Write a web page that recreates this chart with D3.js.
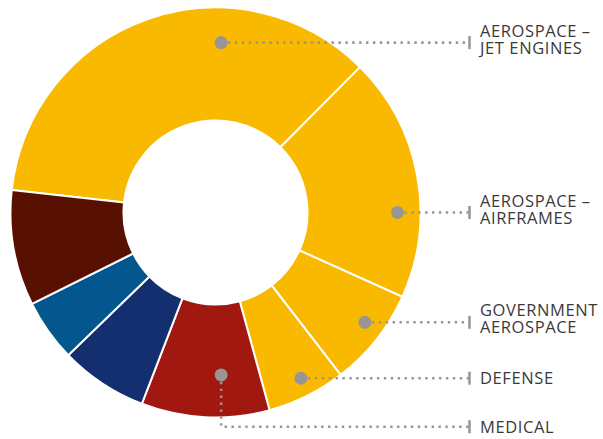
<!DOCTYPE html>
<html>
<head>
<meta charset="utf-8">
<script src="https://cdn.jsdelivr.net/npm/d3@7"></script>
<style>
  body { margin: 0; background: #fff; }
  svg { display: block; }
  .label { font-family: "Open Sans", "Noto Sans", sans-serif; font-size: 16.5px; fill: #3a3a3a; letter-spacing: 0.6px; }
</style>
</head>
<body>
<div id="chart"></div>
<script>
"use strict";

// segments, clockwise starting from the big jet engines slice
const segments = ["Aerospace – Jet Engines", "Aerospace – Airframes", "Government Aerospace",
  "Defense", "Medical", "Other 1", "Other 2", "Other 3"];
const shares = [35.7, 19.3, 7.8, 6.2, 10.1, 6.9, 4.9, 9.1];
const segmentColors = ["#F9B900", "#F9B900", "#F9B900", "#F9B900", "#A11810", "#142F70", "#03578E", "#581100"];

// callouts: segment index, label lines
const calloutSegment = [0, 1, 2, 3, 4];
const calloutLines = [
  ["AEROSPACE –", "JET ENGINES"],
  ["AEROSPACE –", "AIRFRAMES"],
  ["GOVERNMENT", "AEROSPACE"],
  ["DEFENSE"],
  ["MEDICAL"]
];

const msm = {
  width: 603,
  height: 439,
  cx: 215.5,
  cy: 212.5,
  outer: 205,
  inner: 92,
  tickX: 469.5,
  textX: 480
};

// where each callout dot sits on its slice (degrees clockwise from top, radius)
const dotAngle = [1.9, 90, 126.3, 152.7, 178];
const dotRadius = [170, 182, 185.5, 186.5, 162.5];

const svg = d3.select("#chart").append("svg")
  .attr("width", msm.width)
  .attr("height", msm.height);

const pie = d3.pie()
  .sort(null)
  .value(d => d)
  .startAngle(-83.7 * Math.PI / 180)
  .endAngle((360 - 83.7) * Math.PI / 180);

const arc = d3.arc()
  .innerRadius(msm.inner)
  .outerRadius(msm.outer);

const donut = svg.append("g")
  .attr("transform", "translate(" + msm.cx + "," + msm.cy + ")");

donut.selectAll("path")
  .data(pie(shares))
  .enter()
  .append("path")
  .attr("d", arc)
  .attr("fill", (d, i) => segmentColors[i])
  .attr("stroke", "#fff")
  .attr("stroke-width", 2)
  .attr("stroke-linejoin", "miter");

// callouts
function dotPos(i) {
  const a = dotAngle[i] * Math.PI / 180;
  return [msm.cx + dotRadius[i] * Math.sin(a), msm.cy - dotRadius[i] * Math.cos(a)];
}

const callouts = svg.append("g");

calloutSegment.forEach((seg, i) => {
  const [x, y] = dotPos(i);
  const isMedical = i === 4;
  const lineY = isMedical ? 426.7 : y;
  const pts = isMedical ? [[x, y], [x, lineY], [msm.tickX, lineY]] : [[x, y], [msm.tickX, lineY]];

  callouts.append("path")
    .attr("d", d3.line()(pts))
    .attr("fill", "none")
    .attr("stroke", "#9A9595")
    .attr("stroke-width", 2.6)
    .attr("stroke-dasharray", "2.4 4.5");

  callouts.append("line")
    .attr("x1", msm.tickX).attr("x2", msm.tickX)
    .attr("y1", lineY - 6.5).attr("y2", lineY + 6.5)
    .attr("stroke", "#9A9595")
    .attr("stroke-width", 2.5);

  callouts.append("circle")
    .attr("cx", x)
    .attr("cy", y)
    .attr("r", 6.5)
    .attr("fill", "#9A9595");

  // each line as its own text so the boxes stay apart
  const lines = calloutLines[i];
  const first = lines.length === 1 ? lineY + 6 : lineY - 6;
  lines.forEach((t, j) => {
    callouts.append("text")
      .attr("class", "label")
      .attr("x", msm.textX)
      .attr("y", first + j * 17)
      .text(t);
  });
});
</script>
</body>
</html>
